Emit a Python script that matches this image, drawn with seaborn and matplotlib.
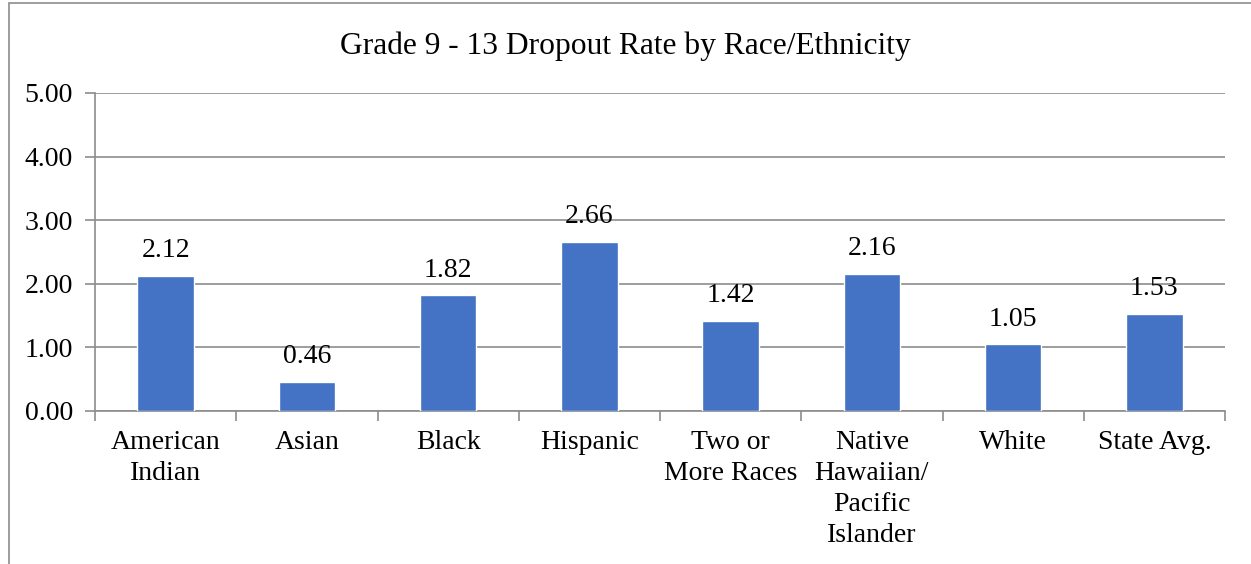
import numpy as np
import pandas as pd
import matplotlib
matplotlib.use("Agg")
import matplotlib.pyplot as plt
import seaborn as sns
from matplotlib.patches import Rectangle

# chart data
groups = ["American\nIndian", "Asian", "Black", "Hispanic", "Two or\nMore Races",
          "Native\nHawaiian/\nPacific\nIslander", "White", "State Avg."]
rates = [2.12, 0.46, 1.82, 2.66, 1.42, 2.16, 1.05, 1.53]
title = "Grade 9 - 13 Dropout Rate by Race/Ethnicity"

sns.set_style("white")
plt.rcParams["font.family"] = ["Liberation Serif", "DejaVu Serif"]
plt.rcParams["text.color"] = "black"
plt.rcParams["xtick.color"] = "black"
plt.rcParams["ytick.color"] = "black"

df = pd.DataFrame({"group": groups, "rate": rates})

fig = plt.figure(figsize=(12.51, 5.64), dpi=100)
ax = fig.add_axes([95 / 1251, 1 - 411 / 564, 1130 / 1251, 318 / 564])

sns.barplot(data=df, x="group", y="rate", color="#4472C4", width=0.4,
            saturation=1, ax=ax, zorder=3)

ax.set_ylim(0, 5)
ax.set_xlim(-0.5, len(groups) - 0.5)
ax.set_yticks(np.arange(0, 5.01, 1))
ax.set_yticklabels([f"{v:.2f}" for v in np.arange(0, 5.01, 1)])
ax.yaxis.grid(True, color="#8c8c8c", linewidth=1.2, zorder=0)
ax.set_xlabel("")
ax.set_ylabel("")

for s in ["top", "right"]:
    ax.spines[s].set_visible(False)
for s in ["left", "bottom"]:
    ax.spines[s].set_color("#8c8c8c")
    ax.spines[s].set_linewidth(1.2)

# tick marks between categories on the x axis
ax.set_xticks(np.arange(len(groups)))
ax.set_xticklabels(groups, fontsize=20, linespacing=1.3, va="top")
ax.set_xticks(np.arange(-0.5, len(groups)), minor=True)
ax.tick_params(axis="x", which="major", length=0, pad=14, labelcolor="black")
ax.tick_params(axis="x", which="minor", length=7, color="#8c8c8c", width=1.2, bottom=True)
ax.tick_params(axis="y", length=7, color="#8c8c8c", width=1.2, left=True,
               labelsize=20, pad=9, labelcolor="black")

for i, v in enumerate(rates):
    ax.text(i, v + 0.2, f"{v:.2f}", ha="center", va="bottom", fontsize=20, color="black")

fig.text(0.5, 1 - 46 / 564, title, ha="center", va="center", fontsize=22.7, color="black")

# outer chart border
fig.add_artist(Rectangle((9 / 1251, -0.1), 1.2, 1 - 3 / 564 + 0.1,
                         transform=fig.transFigure, fill=False,
                         edgecolor="#8c8c8c", linewidth=1.2))

fig.savefig("out.png", dpi=100)
